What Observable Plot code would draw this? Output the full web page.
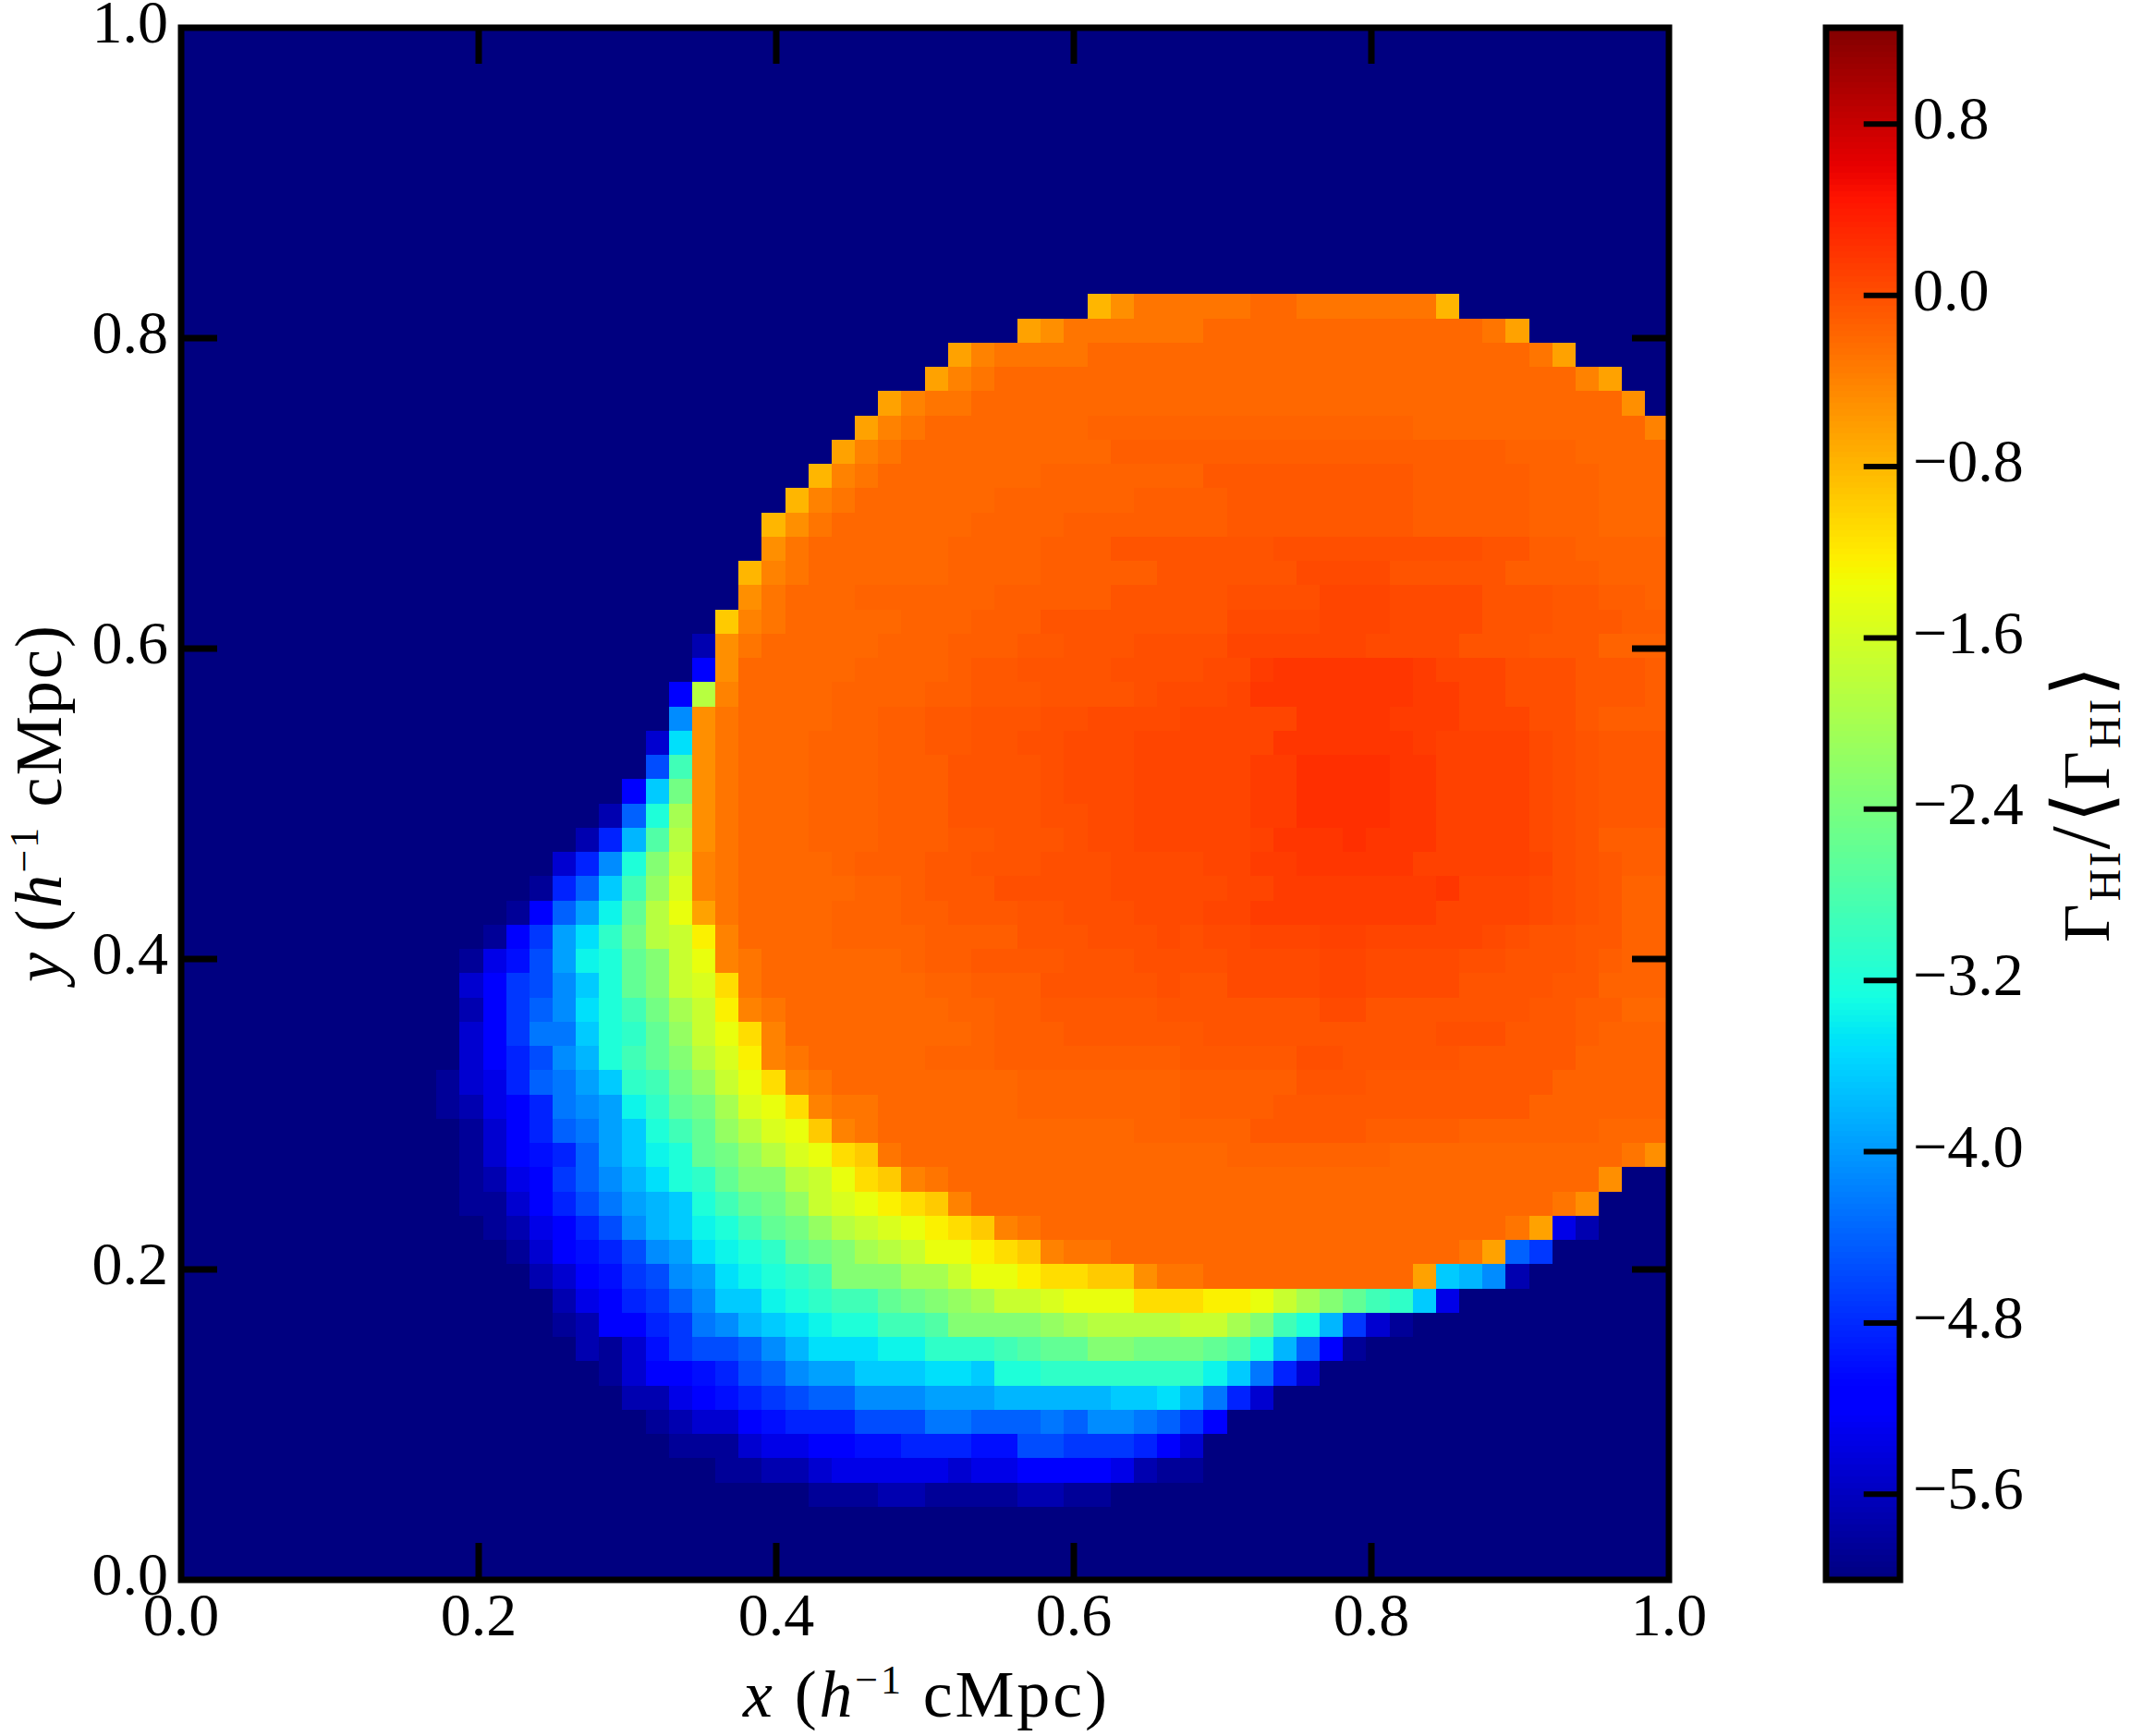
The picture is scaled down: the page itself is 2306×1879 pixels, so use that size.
<!DOCTYPE html>
<html>
<head>
<meta charset="utf-8">
<script src="https://cdn.jsdelivr.net/npm/d3@7"></script>
<script src="https://cdn.jsdelivr.net/npm/@observablehq/plot@0.6"></script>
<style>
  html, body { margin: 0; padding: 0; background: #fff; }
  #page { position: relative; width: 2306px; height: 1879px; overflow: hidden; }
  #main, #bar { position: absolute; top: 0; }
  #main { left: 0; width: 1900px; }
  #bar { left: 1900px; width: 406px; }
  svg { display: block; max-width: none !important; height: 1879px !important; }
</style>
</head>
<body>
<div id="page"><div id="main"></div><div id="bar"></div></div>
<script>
// colour levels: each letter stands for one value of Gamma_HI/<Gamma_HI>
const levelCodes = [".","a","b","c","d","e","f","g","h","i","j","k","l","m","n","o","p","q","r","s","t","u","v","w","x","y","z","A","B","C","D","E","F","G","H","I","J","K","L","M","T","N","U","O","V","P","W","Q","X","R","S"];
const levelValues = [-6,-5.85,-5.7,-5.5,-5.35,-5.2,-5,-4.85,-4.7,-4.55,-4.4,-4.25,-4.1,-3.95,-3.8,-3.65,-3.5,-3.35,-3.2,-3.05,-2.9,-2.75,-2.6,-2.45,-2.3,-2.15,-2,-1.85,-1.7,-1.55,-1.4,-1.25,-1.1,-0.95,-0.8,-0.65,-0.5,-0.4,-0.3,-0.2,-0.16,-0.12,-0.08,-0.05,-0.01,0.03,0.07,0.1,0.14,0.18,0.24];

// top to bottom, 64 rows. A token is "<first column><one letter per cell>"; the last letter runs on to the next token.
const rowRuns = [
"","","","","","","","","","","",
"39HJL 46M 48L 54H 55.",
"36IJL 44M 56LI 58.",
"33IKL 39M 58LI 60.",
"32IKL 35M 60KI 62.",
"30IKL 34M 62J 63.",
"29IKL 32M 39T 53M 63K",
"28IKL 31M 40N 57T 60M",
"27HKL 30M 37T 44U 53N 58T 61M",
"26HKL 29M 35T 41N 45U 53N 58T 61M",
"25HJL 28M 34T 38N 45U 53N 58T 61M",
"25JL 27M 33T 37N 40O 47V 56O 58N 60T",
"24HKL 27M 33T 37N 42O 48P 52O 57N 61T",
"24JL 26M 29T 35N 40O 45V 49W 52P 56O 59U 61N 63T",
"23GKL 26M 31T 34N 37O 45P 49W 52P 56O 59U 62N",
"22bJL 25M 30T 33N 36U 38O 41V 45W 51P 55O 58U 61T",
"22eJ 24M 29T 33N 34U 36O 40V 44P 46X 47R 53X 54W 57V 60U 63N",
"21eAK 24M 28T 32N 34U 37O 41V 42P 45W 46R 53X 55W 57V 60U 63N",
"21lJL 24M 28T 30N 32U 34O 37V 39P 43W 48R 52X 55W 58V 60U 61N",
"20cpJL 24M 27T 30N 32U 34O 36V 38P 41W 47R 53X 54Q 58PVOU",
"20itJL 24M 27T 30N 33O 37V 38P 41W 46X 48S 52R 54Q 58PVOU",
"19eowJL 24M 27T 30N 33O 37V 38P 41W 46X 48S 52R 54Q 58PVOU",
"18bjrzJL 24M 27T 30N 33O 37V 39P 41W 46X 48S 52R 54Q 58PVOU",
"17bgnuAJL 24M 27T 30N 33U 35O 38V 39P 41W 46Q 47R 50S 51R 54Q 58PVO 61N",
"16cglrxBKL 24M 28T 29N 32U 34O 37V 40P 44W 46X 48R 53Q 58WVOUN",
"15agjotyCKL 24M 29T 31N 32U 35V 40P 45W 47X 54R 55W 58PVOUT",
"14aejmqvADIL 24M 28T 31N 33U 36O 38V 41P 44W 46X 54W 58PVOUT",
"13aehmpswABEK 24M 28T 32N 36O 39V 42PV 44P 46W 49Q 51W 56PV 58O 60U 62T",
"12adfimqrvxBDKL 25M 31T 32N 34U 38O 41V 45P 49W 51P 55V 57O 60UNT",
"12cehilorvxBCFL 25M 32T 34N 37O 42V 43O 45P 49W 51P 55O 59U 61T",
"12behjlprtwzBEKL 26M 33T 35N 37U 42O 49P 51O 58U 60N 62M",
"12cehkkorsvyBDFK 26M 34T 35N 38U 44O 54V 57U 60NT",
"12cegilnrtvxACEKL 27M 32T 35N 43U 48V 50O 55U 60T",
"11acdgjkmostwyBDFKL 28M 36T 43N 48O 51U 59T",
"11abdegklmqsvwzCDFKL 30M 36T 43N 47U 58T",
"12acegjkmortvyACDGKL 30M 41T 46U 51N 55T 61M",
"12acefgjmoqrvwyACDFGL 31M 45T 52M 62LJ",
"12abdehjlnprsvxxABDFGKL 33M 61J 62.",
"12aacegikmnortvwyBCDEFGK 34M 59LJ 61.",
"13abdegilnoqrtvwyABCDEFGKL 37M 57LIdb 61.",
"14acefgilmpqrsvwxzABDDEFGKLL 40M 55LIjh 59.",
"15bcefhilmpqrstxxxzzBDDEFFGGJLL 44M 53Ionlb 58.",
"16bdeghjlooqrsttvwxyzBBCDDDFFFEEDBzxvtsod 55.",
"16abeeghklnopqrrttuxxxxyzAAAABBzxtrnhca 53.",
"17bacfhiijlnpppqqssstuvvxxwwwvurnjea 51.",
"18aceefgijlmmooopporrsssssssqokgc 49.",
"19bbdefghijjlllmmmnnnnnoopnkgc 47.",
"20abccefgggiiikkjjjkjllkjhe 45.",
"21aaacddeeffgggffiihhhgec 44.",
"23aabbcdddddcddeeeedbaa 44.",
"27aaabbaaaabbaa 40.",
"","",""
];

const xTickValues = [0, 0.2, 0.4, 0.6, 0.8, 1];
const yTickValues = [0, 0.2, 0.4, 0.6, 0.8, 1];
const innerTicks = [0.2, 0.4, 0.6, 0.8];
const barTickValues = [0.8, 0, -0.8, -1.6, -2.4, -3.2, -4.0, -4.8, -5.6];

// matplotlib jet colour stops
const jetStops = [0, 0.11, 0.125, 0.34, 0.35, 0.375, 0.64, 0.65, 0.66, 0.89, 0.91, 1];
const jetColors = ["#000080","#0000ff","#0000ff","#00dbff","#00e5f7","#15ffe2","#eeff08","#f7f600","#ffec00","#ff1300","#e80000","#800000"];
const valueMin = -6, valueMax = 1.25;
const colorScale = {type: "linear", domain: jetStops.map(t => valueMin + t * (valueMax - valueMin)), range: jetColors, clamp: true};

const levelOf = new Map(levelCodes.map((c, i) => [c, levelValues[i]]));
const cells = [];
rowRuns.forEach((run, r) => {
  const row = new Array(64).fill(-6);
  for (const token of run.split(" ").filter(Boolean)) {
    const m = token.match(/^(\d+)(.+)$/);
    const start = +m[1], letters = m[2];
    for (let c = start; c < 64; c++) {
      const k = Math.min(c - start, letters.length - 1);
      row[c] = levelOf.get(letters[k]);
    }
  }
  row.forEach((v, c) => cells.push({c, r, v}));
});

const serif = "'Liberation Serif', 'DejaVu Serif', serif";
const fmt = d => d.toFixed(1).replace("-", "\u2212");

// rich text label as a real SVG text element
function richLabel(x, y, rotate, size, parts, length) {
  return () => {
    const t = d3.create("svg:text")
      .attr("transform", `translate(${x},${y}) rotate(${rotate})`)
      .attr("text-anchor", "middle")
      .attr("font-family", serif)
      .attr("font-size", size)
      .attr("fill", "black");
    if (length) t.attr("textLength", length).attr("lengthAdjust", "spacing");
    for (const p of parts) {
      const s = t.append("tspan").text(p.t);
      if (p.italic) s.attr("font-style", "italic");
      if (p.size) s.attr("font-size", p.size);
      if (p.dy) s.attr("dy", p.dy);
      if (p.family) s.attr("font-family", p.family);
      if (p.weight) s.attr("font-weight", p.weight);
    }
    return t.node();
  };
}

const axisParts = name => [
  {t: name, italic: true}, {t: " ("}, {t: "h", italic: true},
  {t: "\u22121", size: 44, dy: -25}, {t: " cMpc)", dy: 25}
];

const w = 1610, h = 1680, tl = 39.5;
const main = Plot.plot({
  width: 1900, height: 1879,
  marginLeft: 195.5, marginRight: 1900 - 1805.5, marginTop: 29.5, marginBottom: 169.5,
  x: {domain: [0, 1], label: null},
  y: {domain: [0, 1], label: null},
  color: colorScale,
  style: {background: "transparent"},
  marks: [
    Plot.rect(cells, {
      x1: d => d.c / 64, x2: d => (d.c + 1) / 64,
      y1: d => 1 - (d.r + 1) / 64, y2: d => 1 - d.r / 64,
      fill: "v", shapeRendering: "crispEdges"
    }),
    Plot.ruleX(innerTicks, {x: d => d, y1: 0, y2: tl / h, stroke: "black", strokeWidth: 7}),
    Plot.ruleX(innerTicks, {x: d => d, y1: 1 - tl / h, y2: 1, stroke: "black", strokeWidth: 7}),
    Plot.ruleY(innerTicks, {y: d => d, x1: 0, x2: tl / w, stroke: "black", strokeWidth: 7}),
    Plot.ruleY(innerTicks, {y: d => d, x1: 1 - tl / w, x2: 1, stroke: "black", strokeWidth: 7}),
    Plot.frame({stroke: "black", strokeWidth: 7}),
    Plot.axisX({ticks: xTickValues, tickSize: 0, tickPadding: 13, tickFormat: fmt, fontSize: 66, fontFamily: serif, fill: "black", label: null}),
    Plot.axisY({ticks: yTickValues, tickSize: 0, tickPadding: 14, tickFormat: fmt, fontSize: 66, fontFamily: serif, fill: "black", label: null, dy: -5}),
    richLabel(1001, 1858, 0, 72, axisParts("x"), 394),
    richLabel(66, 870, -90, 72, axisParts("y"), 386)
  ]
});
document.getElementById("main").appendChild(main);

const barLevels = d3.range(256).map(i => ({
  lo: valueMin + i / 256 * (valueMax - valueMin),
  hi: valueMin + (i + 1) / 256 * (valueMax - valueMin)
}));
const bracketFont = "Inter, 'Noto Sans', 'DejaVu Sans', serif";
const bar = Plot.plot({
  width: 406, height: 1879,
  marginLeft: 75.5, marginRight: 406 - 155.5, marginTop: 29.5, marginBottom: 169.5,
  x: {domain: [0, 1], axis: null},
  y: {domain: [valueMin, valueMax], label: null},
  color: colorScale,
  style: {background: "transparent"},
  marks: [
    Plot.rect(barLevels, {x1: 0, x2: 1, y1: "lo", y2: "hi", fill: d => (d.lo + d.hi) / 2, shapeRendering: "crispEdges"}),
    Plot.ruleY(barTickValues, {y: d => d, x1: 1 - 38.8 / 80, x2: 1, stroke: "black", strokeWidth: 6}),
    Plot.frame({stroke: "black", strokeWidth: 7}),
    Plot.axisY({anchor: "right", ticks: barTickValues, tickSize: 0, tickPadding: 14, tickFormat: fmt, fontSize: 66, fontFamily: serif, fill: "black", label: null, dy: -5}),
    richLabel(382, 870, -90, 72, [
      {t: "\u0393"}, {t: "HI", size: 48, dy: 12}, {t: "/", dy: -12, size: 90},
      {t: "\u27E8", family: bracketFont, size: 86, weight: 200},
      {t: "\u0393"}, {t: "HI", size: 48, dy: 12},
      {t: "\u27E9", family: bracketFont, size: 86, weight: 200, dy: -12}
    ], 300)
  ]
});
document.getElementById("bar").appendChild(bar);
</script>
</body>
</html>
